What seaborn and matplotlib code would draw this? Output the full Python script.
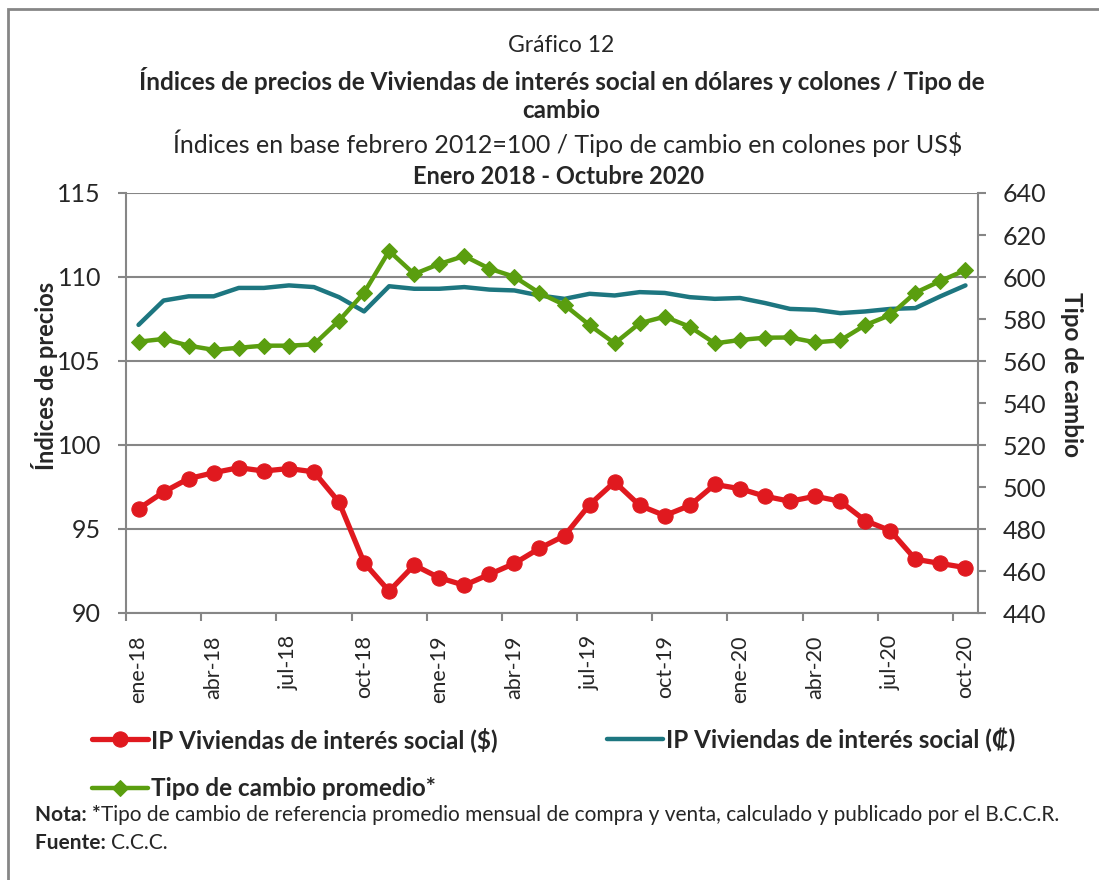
import numpy as np
import pandas as pd
import matplotlib
matplotlib.use('Agg')
import matplotlib.pyplot as plt
import matplotlib.transforms as mtrans
import seaborn as sns
from matplotlib.patches import Rectangle
from matplotlib.ticker import FixedLocator, MultipleLocator

# monthly data, ene-2018 to oct-2020
meses = ['ene', 'feb', 'mar', 'abr', 'may', 'jun', 'jul', 'ago', 'sep', 'oct', 'nov', 'dic']
periodos = [m + '-' + str(a) for a in (18, 19, 20) for m in meses][:34]

ip_dolares = [96.2, 97.2, 98.0, 98.35, 98.65, 98.45, 98.6, 98.4, 96.6, 93.0, 91.3, 92.85,
              92.1, 91.65, 92.3, 92.95, 93.85, 94.6, 96.45, 97.8, 96.4, 95.8, 96.4, 97.65,
              97.4, 96.95, 96.65, 96.95, 96.65, 95.5, 94.9, 93.2, 92.95, 92.7]
ip_colones = [107.15, 108.6, 108.85, 108.85, 109.35, 109.35, 109.5, 109.4, 108.8, 107.95, 109.45, 109.3,
              109.3, 109.4, 109.25, 109.2, 108.9, 108.7, 109.0, 108.9, 109.1, 109.05, 108.8, 108.7,
              108.75, 108.45, 108.1, 108.05, 107.85, 107.95, 108.1, 108.15, 108.85, 109.5]
tipo_cambio = [569.2, 570.5, 567.3, 565.3, 566.3, 567.3, 567.3, 567.9, 579.2, 592.5, 612.4, 601.4,
               606.2, 610.0, 604.0, 600.1, 592.4, 586.7, 577.1, 568.4, 578.0, 581.1, 576.3, 568.4,
               570.0, 571.1, 571.2, 568.9, 569.8, 577.1, 581.9, 592.5, 598.1, 603.3]

df = pd.DataFrame({'pos': range(len(periodos)), 'periodo': periodos,
                   'usd': ip_dolares, 'crc': ip_colones, 'tc': tipo_cambio})

rojo = '#E0191F'
verde_azul = '#1D7680'
verde = '#5A9E0F'
gris = '#868686'

sns.set_style('white')
plt.rcParams['font.family'] = ['Lato', 'DejaVu Sans']

fig = plt.figure(figsize=(10.99, 8.80), dpi=100)
ax = fig.add_axes([126/1099, 1 - 613/880, (978 - 126)/1099, (613 - 193)/880])
ax2 = ax.twinx()

sns.lineplot(data=df, x='pos', y='usd', ax=ax, color=rojo, lw=3.8, marker='o', ms=11,
             mec=rojo, label='IP Viviendas de interés social ($)', legend=False)
sns.lineplot(data=df, x='pos', y='crc', ax=ax, color=verde_azul, lw=3.2,
             label='IP Viviendas de interés social (₡)', legend=False)
sns.lineplot(data=df, x='pos', y='tc', ax=ax2, color=verde, lw=3.2, marker='D', ms=8.5,
             mec=verde, label='Tipo de cambio promedio*', legend=False)

ax.set_xlim(-0.5, 33.5)
ax.set_ylim(90, 115)
ax2.set_ylim(440, 640)
ax.yaxis.set_major_locator(MultipleLocator(5))
ax2.yaxis.set_major_locator(MultipleLocator(20))

ax.set_xticks(df['pos'][::3])
ax.set_xticklabels(df['periodo'][::3], rotation=90, fontsize=15.5)
desplaza = mtrans.ScaledTranslation(4/100, 0, fig.dpi_scale_trans)
for lab in ax.get_xticklabels():
    lab.set_transform(lab.get_transform() + desplaza)
ax.xaxis.set_minor_locator(FixedLocator(np.arange(-0.5, 33, 3)))
ax.tick_params(axis='x', which='major', length=0, pad=16)
ax.tick_params(axis='x', which='minor', length=6, width=1.5, color=gris, bottom=True)
ax.tick_params(axis='y', length=6, width=1.5, color=gris, labelsize=18, left=True, pad=12)
ax2.tick_params(axis='y', length=6, width=1.5, color=gris, labelsize=18, right=True, pad=12)

ax.grid(axis='y', color=gris, lw=1.5)
ax.set_axisbelow(True)
for a in (ax, ax2):
    a.set_xlabel('')
    a.set_ylabel('')
    for s in a.spines.values():
        s.set_color(gris)
        s.set_linewidth(1.5)
    a.spines['top'].set_visible(False)
ax.spines['right'].set_visible(False)
ax2.spines['left'].set_visible(False)
ax2.spines['bottom'].set_visible(False)

fig.text(45/1099, 1 - 376/880, 'Índices de precios', rotation=90, ha='center', va='center',
         fontsize=17, fontweight='bold')
fig.text(1072/1099, 1 - 374/880, 'Tipo de cambio', rotation=-90, ha='center', va='center',
         fontsize=17.5, fontweight='bold')

# titles
fig.text(0.5 + 12/1099, 1 - 45/880, 'Gráfico 12', ha='center', va='center', fontsize=16.5)
fig.text(0.5 + 12/1099, 1 - 80/880,
         'Índices de precios de Viviendas de interés social en dólares y colones / Tipo de',
         ha='center', va='center', fontsize=17.5, fontweight='bold')
fig.text(0.5 + 12/1099, 1 - 111/880, 'cambio', ha='center', va='center', fontsize=17.5, fontweight='bold')
fig.text(0.5 + 18/1099, 1 - 143/880, 'Índices en base febrero 2012=100 / Tipo de cambio en colones por US$',
         ha='center', va='center', fontsize=18)
fig.text(0.5 + 9/1099, 1 - 177/880, 'Enero 2018 - Octubre 2020', ha='center', va='center',
         fontsize=17, fontweight='bold')

h1, l1 = ax.get_legend_handles_labels()
h2, l2 = ax2.get_legend_handles_labels()
fig.legend([h1[0], h2[0], h1[1]], [l1[0], l2[0], l1[1]], ncol=2, loc='upper left',
           bbox_to_anchor=(92/1099, 1 - 727/880), frameon=False, handlelength=2.3,
           handletextpad=0.12, columnspacing=4.5, labelspacing=1.05, borderpad=0,
           borderaxespad=0, prop={'size': 17.5, 'weight': 'bold'})

# note and source, bold prefix followed by regular text
fig.canvas.draw()
rend = fig.canvas.get_renderer()
for y, pre, resto in [(815, 'Nota: *', 'Tipo de cambio de referencia promedio mensual de compra y venta, calculado y publicado por el B.C.C.R.'),
                      (843, 'Fuente: ', 'C.C.C.')]:
    t = fig.text(35/1099, 1 - y/880, pre, ha='left', va='center', fontsize=15, fontweight='bold')
    bb = t.get_window_extent(rend)
    fig.text(bb.x1/1099, 1 - y/880, resto, ha='left', va='center', fontsize=15)

fig.patches.append(Rectangle((8/1099, -0.1), 1.2, 1 - 9/880 + 0.1, transform=fig.transFigure,
                             fill=False, ec=gris, lw=2))

fig.savefig('out.png', dpi=100)
